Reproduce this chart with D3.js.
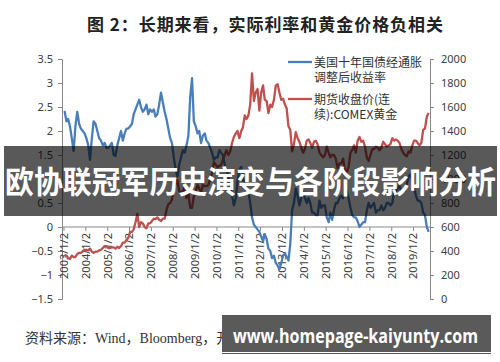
<!DOCTYPE html>
<html><head><meta charset="utf-8">
<script src="https://cdn.jsdelivr.net/npm/d3@7"></script>
<style>html,body{margin:0;padding:0;background:#fff;}svg{display:block;}</style>
</head><body>
<svg id="c" width="500" height="362"></svg>
<script>
// ---- data ----
const title = "图 2：长期来看，实际利率和黄金价格负相关";
const seriesNames = ["美国十年国债经通胀|调整后收益率", "期货收盘价(连|续):COMEX黄金"];
const years = [2003,2004,2005,2006,2007,2008,2009,2010,2011,2012,2013,2014,2015,2016,2017,2018,2019];
const leftTicks = [-1.5,-1,-0.5,0,0.5,1,1.5,2,2.5,3,3.5];
const rightTicks = [0,200,400,600,800,1000,1200,1400,1600,1800,2000];
const xTickLabels = years.map(y => y + "/1/2");
// monthly values, 10Y TIPS real yield (%)
const realYield = [
 [2.42,2.2,2.25,2.1,1.85,1.58,2.1,2.4,2.15,2.05,2.0,1.95],
 [1.85,1.7,1.4,1.85,2.2,2.15,2.0,1.85,1.8,1.7,1.75,1.65],
 [1.65,1.7,1.75,1.5,1.48,1.7,1.85,2.0,1.8,1.95,2.05,2.05],
 [2.1,2.15,2.35,2.45,2.55,2.65,2.5,2.4,2.45,2.55,2.35,2.45],
 [2.4,2.45,2.3,2.35,2.55,2.8,2.6,2.4,2.25,2.05,1.85,1.75],
 [1.45,1.2,1.05,1.3,1.45,1.6,1.55,1.7,1.9,2.7,3.1,2.2],
 [2.1,1.95,2.0,1.75,1.9,1.95,1.8,1.75,1.65,1.55,1.4,1.45],
 [1.45,1.6,1.55,1.5,1.3,1.2,1.05,0.85,0.65,0.45,0.6,0.95],
 [1.2,1.25,1.0,0.9,0.75,0.75,0.5,0.2,0.05,0.0,-0.05,-0.1],
 [-0.2,-0.3,-0.15,-0.25,-0.45,-0.5,-0.65,-0.6,-0.75,-0.8,-0.88,-0.75],
 [-0.6,-0.55,-0.62,-0.7,-0.35,0.35,0.5,0.8,0.65,0.45,0.6,0.75],
 [0.6,0.5,0.6,0.5,0.3,0.3,0.25,0.25,0.55,0.4,0.45,0.45],
 [0.2,0.1,0.3,0.15,0.35,0.5,0.5,0.6,0.65,0.6,0.7,0.75],
 [0.6,0.4,0.25,0.2,0.2,0.12,0.0,0.05,0.1,0.1,0.35,0.5],
 [0.4,0.45,0.5,0.3,0.35,0.35,0.45,0.35,0.4,0.5,0.5,0.45],
 [0.5,0.75,0.75,0.8,0.85,0.75,0.75,0.75,0.9,1.05,1.1,0.95],
 [0.8,0.65,0.55,0.55,0.5,0.3,0.25,0.0,-0.1]
];
// monthly values, COMEX gold futures close (USD/oz)
const goldPrice = [
 [355,360,340,335,360,350,350,375,385,385,395,410],
 [410,405,420,395,385,395,395,405,410,425,440,440],
 [425,425,430,430,420,435,425,440,470,470,490,510],
 [560,560,580,640,710,600,640,630,600,590,630,630],
 [650,670,665,680,660,650,670,670,740,790,800,830],
 [920,960,990,900,890,900,940,840,880,760,760,860],
 [900,950,920,890,950,940,940,950,1000,1050,1140,1120],
 [1100,1110,1115,1160,1200,1240,1200,1230,1300,1350,1380,1400],
 [1340,1400,1430,1530,1500,1530,1620,1880,1650,1720,1750,1570],
 [1720,1780,1660,1650,1550,1620,1600,1660,1780,1790,1720,1660],
 [1670,1620,1590,1440,1410,1230,1290,1390,1340,1310,1260,1220],
 [1250,1320,1330,1300,1260,1310,1320,1290,1220,1200,1180,1200],
 [1270,1220,1180,1200,1200,1170,1090,1130,1130,1170,1070,1060],
 [1100,1220,1240,1280,1220,1320,1350,1310,1320,1270,1180,1150],
 [1200,1250,1250,1270,1260,1240,1260,1310,1290,1270,1280,1290],
 [1340,1320,1330,1320,1300,1250,1220,1200,1190,1230,1220,1280],
 [1320,1320,1300,1280,1300,1410,1420,1520,1550]
];

// ---- build ----
const toPts = arr => arr.flatMap((row, i) => row.map((v, m) => ({d: new Date(years[i], m, 20), v})));
const blue = toPts(realYield), red = toPts(goldPrice);

const svg = d3.select("#c");
const x = d3.scaleTime().domain([new Date(2003,0,2), new Date(2019,9,12)]).range([63.5, 430]);
const yL = d3.scaleLinear().domain([-1.5, 3.5]).range([299, 59]);
const yR = d3.scaleLinear().domain([0, 2000]).range([299, 59]);
const axisColor = "#898989", txt = "#404040";
const tickFont = "'Noto Sans','Liberation Sans',sans-serif";

// title
svg.append("text").attr("x", 87).attr("y", 31).attr("textLength", 356).attr("lengthAdjust", "spacing")
  .attr("font-family", "'Noto Sans CJK SC',sans-serif").attr("font-weight", "bold").attr("font-size", 17)
  .attr("fill", "#222").text(title);

// left axis
const gL = svg.append("g").attr("transform", "translate(62,0)");
gL.call(d3.axisLeft(yL).tickValues(leftTicks).tickSize(4).tickPadding(5).tickFormat(d3.format("")));
// right axis
const gR = svg.append("g").attr("transform", "translate(430,0)");
gR.call(d3.axisRight(yR).tickValues(rightTicks).tickSize(4).tickPadding(7).tickFormat(d3.format("")));
[gL, gR].forEach(g => {
  g.selectAll("path").attr("stroke", axisColor);
  g.selectAll("line").attr("stroke", axisColor);
  g.selectAll("text").attr("font-family", tickFont).attr("font-size", 11).attr("fill", txt);
});

// x axis at 0
const xDates = years.map(y => new Date(y, 0, 2));
const gX = svg.append("g").attr("transform", `translate(0,${yL(0)})`);
gX.call(d3.axisBottom(x).tickValues(xDates).tickSize(4).tickFormat((d, i) => xTickLabels[i]));
gX.select("path").attr("stroke", axisColor).attr("d", `M62,0H430`);
gX.selectAll("line").attr("stroke", axisColor);
gX.selectAll("text").attr("font-family", tickFont).attr("font-size", 11).attr("fill", txt)
  .attr("text-anchor", "end").attr("transform", "translate(0,6) rotate(-90)").attr("x", 0).attr("y", 0).attr("dy", "0.35em");

// lines
const lineL = d3.line().x(d => x(d.d)).y(d => yL(d.v));
const lineR = d3.line().x(d => x(d.d)).y(d => yR(d.v));
svg.append("path").datum(blue).attr("d", lineL).attr("fill", "none").attr("stroke", "#4a7ebb").attr("stroke-width", 2.3).attr("stroke-linejoin", "round");
svg.append("path").datum(red).attr("d", lineR).attr("fill", "none").attr("stroke", "#c0504d").attr("stroke-width", 2.3).attr("stroke-linejoin", "round");

// legend
const legColors = ["#4a7ebb", "#c0504d"];
const legY = [62, 99];
seriesNames.forEach((n, i) => {
  svg.append("line").attr("x1", 288).attr("x2", 312).attr("y1", legY[i]).attr("y2", legY[i])
    .attr("stroke", legColors[i]).attr("stroke-width", 2.3);
  n.split("|").forEach((s, j) => {
    svg.append("text").attr("x", 314).attr("y", legY[i] + 4.5 + j * 15)
      .attr("font-family", "'Noto Sans CJK SC',sans-serif").attr("font-size", 12).attr("fill", "#333").text(s);
  });
});

// source
svg.append("text").attr("x", 25).attr("y", 343).attr("font-family", "'Liberation Serif','Noto Sans CJK SC',serif")
  .attr("font-size", 14).attr("fill", "#333").text("资料来源：Wind，Bloomberg，开源证券研究所");

// watermark band
svg.append("rect").attr("x", 4).attr("y", 146).attr("width", 493).attr("height", 70).attr("fill", "#000").attr("fill-opacity", 0.65);
svg.append("text").attr("x", 5).attr("y", 193).attr("textLength", 491).attr("lengthAdjust", "spacingAndGlyphs")
  .attr("font-family", "'Noto Sans CJK SC',sans-serif").attr("font-weight", "bold").attr("font-size", 31)
  .attr("fill", "#fff").text("欧协联冠军历史演变与各阶段影响分析");

// bottom watermark
svg.append("rect").attr("x", 222).attr("y", 315).attr("width", 269).attr("height", 37).attr("fill", "#5a5a5a");
svg.append("line").attr("x1", 222).attr("x2", 491).attr("y1", 353.5).attr("y2", 353.5).attr("stroke", "#555");
svg.append("text").attr("x", 233).attr("y", 343).attr("textLength", 245).attr("lengthAdjust", "spacingAndGlyphs")
  .attr("font-family", "'Open Sans','Noto Sans',sans-serif").attr("font-weight", "bold").attr("font-size", 19)
  .attr("fill", "#fff").text("www.homepage-kaiyunty.com");
</script>
</body></html>
